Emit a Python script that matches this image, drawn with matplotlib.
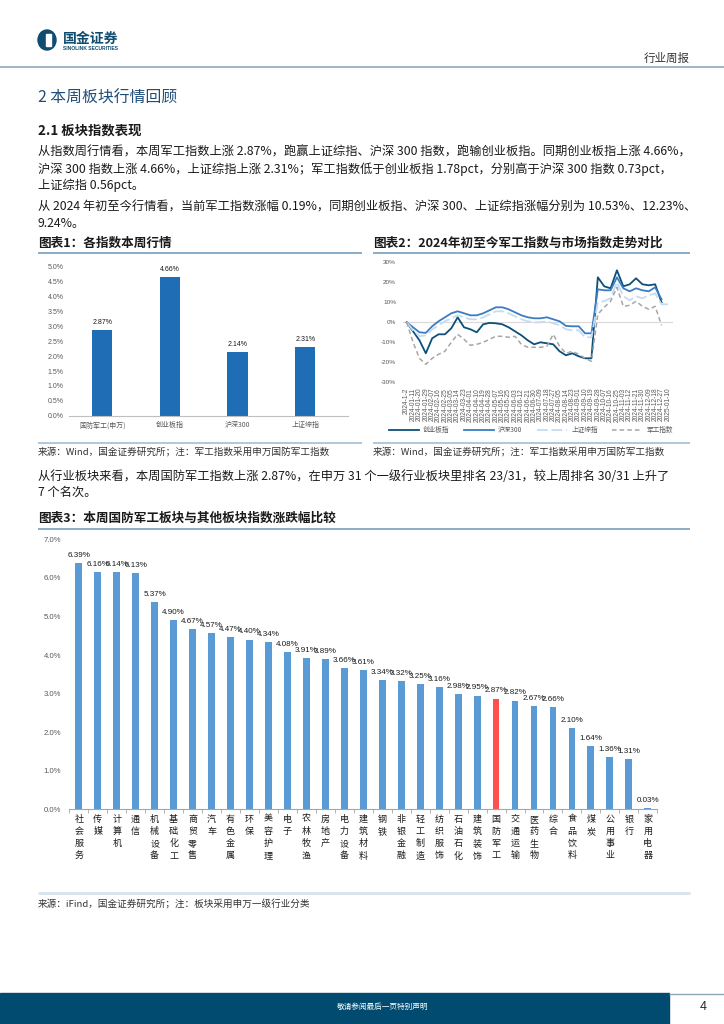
import numpy as np
import matplotlib.pyplot as plt
from matplotlib.patches import Rectangle, Ellipse

plt.rcParams['font.family'] = ['Noto Sans CJK SC', 'DejaVu Sans']
NUM = ['Liberation Sans', 'Noto Sans CJK SC']

# ---- 图表1 各指数本周行情 ----
idx_names = ['国防军工(申万)', '创业板指', '沪深300', '上证综指']
idx_week = [2.87, 4.66, 2.14, 2.31]

# ---- 图表2 2024年初至今走势 (%) ----
dates = ['2024-1-2', '2024-01-11', '2024-01-20', '2024-01-29', '2024-02-07', '2024-02-16',
         '2024-02-25', '2024-03-05', '2024-03-14', '2024-03-23', '2024-04-01', '2024-04-10',
         '2024-04-19', '2024-04-28', '2024-05-07', '2024-05-16', '2024-05-25', '2024-06-03',
         '2024-06-12', '2024-06-21', '2024-06-30', '2024-07-09', '2024-07-18', '2024-07-27',
         '2024-08-05', '2024-08-14', '2024-08-23', '2024-09-01', '2024-09-10', '2024-09-19',
         '2024-09-28', '2024-10-07', '2024-10-16', '2024-10-25', '2024-11-03', '2024-11-12',
         '2024-11-21', '2024-11-30', '2024-12-09', '2024-12-18', '2024-12-27', '2025-01-10']
cyb = [0, -4.5, -9, -15.5, -8, -6, -6, -3, 2.5, -2.5, -3.5, -5, -1, -0.3, -0.5, -1,
       -2.5, -4.5, -6.5, -9, -11, -10, -10.5, -11, -14.5, -16.5, -15.5, -17, -18, -18,
       22.5, 18, 17, 26, 18, 19, 22, 19, 18.5, 19, 10]
hs300 = [0, -2.5, -5, -5.3, -2, 0.5, 2.5, 4.5, 5.5, 4.5, 3.5, 3.5, 4.5, 6, 7.5, 7.5,
         6.5, 5, 3.5, 2.5, 2, 2, 2.5, 1.5, 0.5, -1.8, -2, -2, -5.5, -5.5,
         16.5, 16, 16, 22.5, 17, 15.5, 17, 16, 15.5, 17.5, 11.5]
szzz = [0, -4, -7, -6.5, -3.5, -1.5, 0.5, 2, 3.5, 2.5, 1.5, 1.5, 2.5, 4, 5.5, 5.5,
        4.5, 3, 1.5, 0.5, 0, 0, 0.5, -0.5, -1.5, -3.5, -4, -4, -7.5, -7.5,
        10, 10.5, 12, 20, 13, 11, 13, 12, 13.5, 14.5, 9, 9]
jg = [0, -10, -18, -21, -18, -16, -14.5, -10, -6, -8.5, -11.5, -11, -10, -8.5, -7, -7,
      -7.5, -7, -11, -12.5, -12.5, -12.5, -12, -6, -12, -15.5, -14.5, -16, -18, -19.5,
      4, 7.5, 10.5, 17.5, 8, 8.5, 10.5, 8, 6.5, 8, -1.5]

# ---- 图表3 申万一级行业本周涨跌幅 (%) ----
sectors = ['社会服务', '传媒', '计算机', '通信', '机械设备', '基础化工', '商贸零售', '汽车',
           '有色金属', '环保', '美容护理', '电子', '农林牧渔', '房地产', '电力设备', '建筑材料',
           '钢铁', '非银金融', '轻工制造', '纺织服饰', '石油石化', '建筑装饰', '国防军工',
           '交通运输', '医药生物', '综合', '食品饮料', '煤炭', '公用事业', '银行', '家用电器']
sector_chg = [6.39, 6.16, 6.14, 6.13, 5.37, 4.90, 4.67, 4.57, 4.47, 4.40, 4.34, 4.08,
              3.91, 3.89, 3.66, 3.61, 3.34, 3.32, 3.25, 3.16, 2.98, 2.95, 2.87,
              2.82, 2.67, 2.66, 2.10, 1.64, 1.36, 1.31, 0.03]

W, H = 724, 1024
fig = plt.figure(figsize=(W / 100, H / 100), dpi=100)
bg = fig.add_axes([0, 0, 1, 1])
bg.set_xlim(0, W)
bg.set_ylim(H, 0)
bg.axis('off')


def add_ax(l, t, r, b):
    return fig.add_axes([l / W, 1 - b / H, (r - l) / W, (b - t) / H])


def hline(x0, x1, y, color, lw=1.0):
    bg.plot([x0, x1], [y, y], color=color, lw=lw, solid_capstyle='butt')


NAVY = '#0F4C6F'
DARK = '#1a1a1a'

# header
bg.add_patch(Ellipse((47, 40), 18, 20, color=NAVY))
bg.add_patch(Rectangle((46, 34), 5, 12, color='white'))
bg.text(63, 39, '国金证券', fontsize=10, weight='bold', color=NAVY, va='center')
bg.text(63, 48.5, 'SINOLINK SECURITIES', fontsize=3.6, weight='bold', color=NAVY, va='center',
        family=NUM)
bg.text(690, 58, '行业周报', fontsize=8.3, color='#333333', ha='right', va='center')
hline(0, W, 66.5, '#8FA8BC', 1.2)

bg.text(38, 98, '2 本周板块行情回顾', fontsize=11.4, color='#1F4E79', va='center')
bg.text(38, 131, '2.1 板块指数表现', fontsize=9.6, weight='bold', color=DARK, va='center')

body = dict(fontsize=8.8, color=DARK, va='center')
bg.text(38, 152, '从指数周行情看，本周军工指数上涨 2.87%，跑赢上证综指、沪深 300 指数，跑输创业板指。同期创业板指上涨 4.66%，', **body)
bg.text(38, 169, '沪深 300 指数上涨 4.66%，上证综指上涨 2.31%；军工指数低于创业板指 1.78pct，分别高于沪深 300 指数 0.73pct，', **body)
bg.text(38, 185, '上证综指 0.56pct。', **body)
bg.text(38, 207, '从 2024 年初至今行情看，当前军工指数涨幅 0.19%，同期创业板指、沪深 300、上证综指涨幅分别为 10.53%、12.23%、', **body)
bg.text(38, 224, '9.24%。', **body)

ttl = dict(fontsize=9.1, weight='bold', style='italic', color=DARK, va='center')
bg.text(38, 243, '图表1：各指数本周行情', **ttl)
bg.text(373, 243, '图表2：2024年初至今军工指数与市场指数走势对比', **ttl)
hline(38, 362, 253, '#7FA7C5', 1.3)
hline(373, 690, 253, '#7FA7C5', 1.3)
hline(38, 362, 443, '#A9C4D8', 1.3)
hline(373, 690, 443, '#A9C4D8', 1.3)
src = dict(fontsize=6.9, color='#333333', va='center')
bg.text(38, 452, '来源：Wind，国金证券研究所；注：军工指数采用申万国防军工指数', **src)
bg.text(373, 452, '来源：Wind，国金证券研究所；注：军工指数采用申万国防军工指数', **src)

bg.text(38, 476, '从行业板块来看，本周国防军工指数上涨 2.87%，在申万 31 个一级行业板块里排名 23/31，较上周排名 30/31 上升了', **body)
bg.text(38, 492, '7 个名次。', **body)
bg.text(38, 518, '图表3：本周国防军工板块与其他板块指数涨跌幅比较', **ttl)
hline(38, 690, 529, '#7FA7C5', 1.3)
hline(38, 690, 893, '#D5E3EC', 2.0)
bg.text(38, 904, '来源：iFind，国金证券研究所；注：板块采用申万一级行业分类', **src)

# footer
bg.add_patch(Rectangle((0, 993), 669, 31, color='#004B6F'))
hline(669, W, 993.5, '#8AA6BA', 1.0)
bg.text(383, 1007, '敬请参阅最后一页特别声明', fontsize=5.5, color='white', ha='center', va='center')
bg.text(703, 1007, '4', fontsize=9, color='#222222', ha='center', va='center', family=NUM)

GREY_T = '#595959'

# ---- chart 1 ----
ax1 = add_ax(69, 266.7, 348, 415.7)
x1 = np.arange(len(idx_names))
ax1.bar(x1, idx_week, width=0.30, color='#1F6DB5')
for i, v in enumerate(idx_week):
    ax1.annotate(f'{v:.2f}%', (i, v), xytext=(0, 3), textcoords='offset points',
                 ha='center', va='bottom', fontsize=5, color=DARK, family=NUM)
ax1.set_xlim(-0.49, 3.63)
ax1.set_ylim(0, 5.0)
ax1.set_yticks(np.arange(0, 5.01, 0.5))
ax1.set_yticklabels([f'{t:.1f}%' for t in np.arange(0, 5.01, 0.5)], family=NUM)
ax1.set_xticks(x1)
ax1.set_xticklabels(idx_names)
ax1.tick_params(axis='both', length=0, labelsize=5, colors=GREY_T, pad=4)
for s in ['top', 'right', 'left']:
    ax1.spines[s].set_visible(False)
ax1.spines['bottom'].set_color('#BFBFBF')
ax1.set_facecolor('none')

# ---- chart 2 ----
ax2 = add_ax(403, 262.3, 673, 382.3)
ax2.plot(range(len(cyb)), cyb, color='#0B4F7A', lw=1.3, label='创业板指')
ax2.plot(range(len(hs300)), hs300, color='#3A7DC2', lw=1.3, label='沪深300')
ax2.plot(range(len(szzz)), szzz, color='#C5DCF0', lw=1.3, ls=(0, (6, 2)), label='上证综指')
ax2.plot(range(len(jg)), jg, color='#A6A6A6', lw=1.1, ls=(0, (3, 2)), label='军工指数')
ax2.axhline(0, color='#D9D9D9', lw=0.8, zorder=0)
ax2.set_xlim(-0.58, 41.8)
ax2.set_ylim(-30, 30)
ax2.set_yticks(range(-30, 31, 10))
ax2.set_yticklabels([f'{t}%' for t in range(-30, 31, 10)], family=NUM)
ax2.set_xticks(range(len(dates)))
ax2.set_xticklabels(dates, rotation=90, family=NUM)
ax2.tick_params(axis='y', length=0, labelsize=4.6, colors=GREY_T, pad=5)
ax2.tick_params(axis='x', length=0, labelsize=4.8, colors=GREY_T, pad=4)
for s in ax2.spines.values():
    s.set_visible(False)
ax2.set_facecolor('none')
ax2.legend(loc='center', bbox_to_anchor=(531 / W, 1 - 430 / H), bbox_transform=fig.transFigure,
           ncol=4, frameon=False, fontsize=4.8, handlelength=4.5, columnspacing=2.2,
           handletextpad=0.6, labelcolor=GREY_T)

# ---- chart 3 ----
ax3 = add_ax(69.3, 539.3, 657.3, 809.3)
x3 = np.arange(len(sectors))
cols = ['#FF5050' if s == '国防军工' else '#5B9BD5' for s in sectors]
ax3.bar(x3, sector_chg, width=0.36, color=cols)
for i, v in enumerate(sector_chg):
    ax3.annotate(f'{v:.2f}%', (i, v), xytext=(0, 3), textcoords='offset points',
                 ha='center', va='bottom', fontsize=5.8, color=DARK, family=NUM)
ax3.set_xlim(-0.5, len(sectors) - 0.5)
ax3.set_ylim(0, 7.0)
ax3.set_yticks(np.arange(0, 7.01, 1.0))
ax3.set_yticklabels([f'{t:.1f}%' for t in np.arange(0, 7.01, 1.0)], family=NUM)
ax3.set_xticks(x3)
ax3.set_xticklabels(['\n'.join(s) for s in sectors], linespacing=1.45, va='top')
ax3.set_xticks(np.arange(-0.5, len(sectors), 1.0), minor=True)
ax3.tick_params(axis='y', length=0, labelsize=5.6, colors=GREY_T, pad=6)
ax3.tick_params(axis='x', which='major', length=0, labelsize=6.5, colors=DARK, pad=4)
ax3.tick_params(axis='x', which='minor', length=3, color='#A6A6A6', width=0.6)
for s in ['top', 'right', 'left']:
    ax3.spines[s].set_visible(False)
ax3.spines['bottom'].set_color('#A6A6A6')
ax3.set_facecolor('none')

fig.savefig('out.png', dpi=100)
